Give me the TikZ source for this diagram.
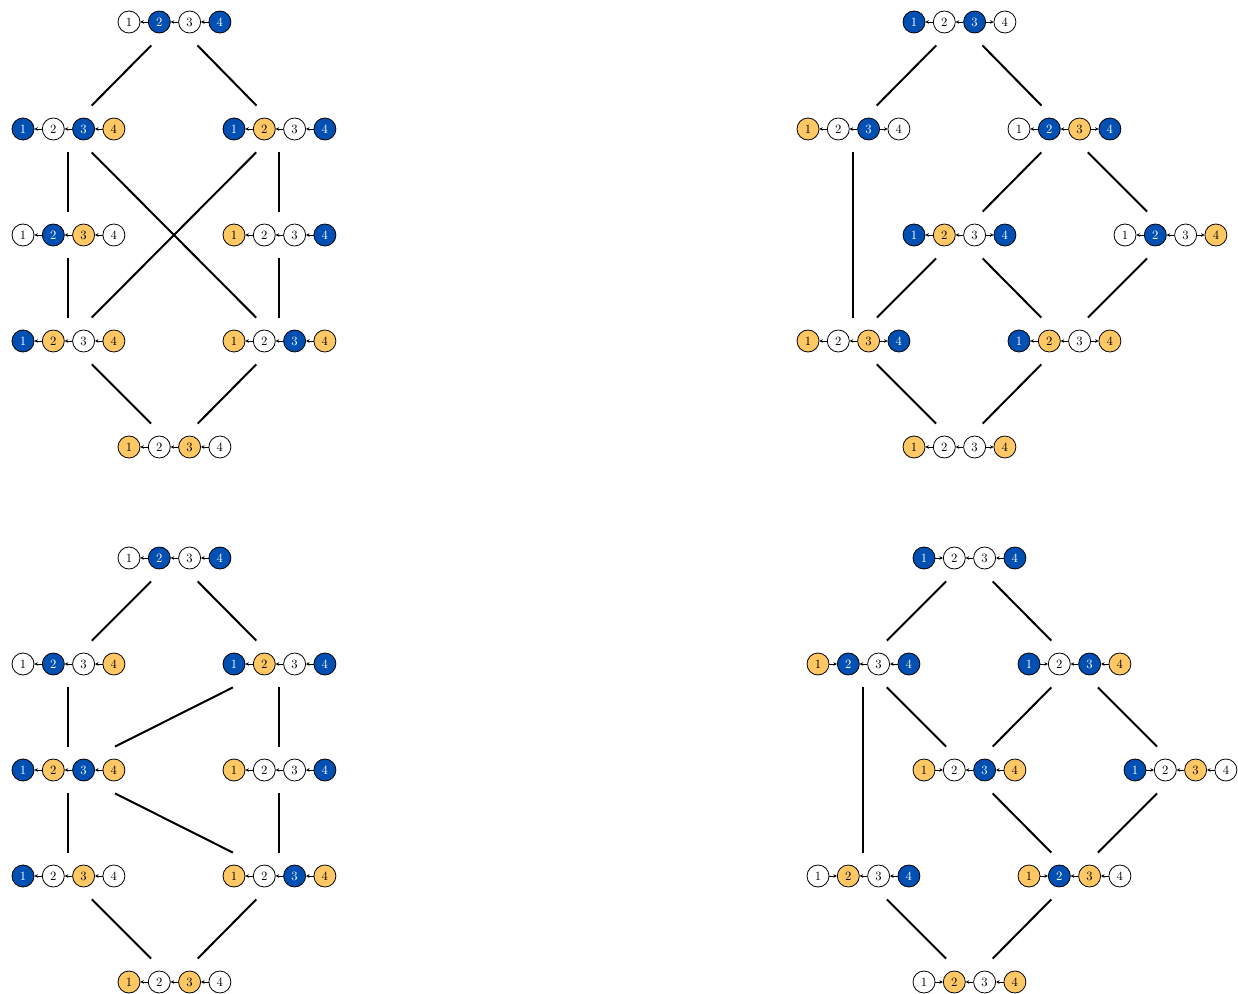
\documentclass[tikz,border=0pt]{standalone}
\usetikzlibrary{fit,arrows.meta}
\definecolor{cblue}{RGB}{0,80,180}
\definecolor{corange}{RGB}{255,200,100}
\tikzset{
 ball/.style={circle,draw=black,line width=0.6pt,minimum size=16.5pt,inner sep=0pt,font=\fontsize{9.5}{10}\selectfont},
 W/.style={ball,fill=white,text=black},
 B/.style={ball,fill=cblue,text=white},
 O/.style={ball,fill=corange,text=black},
 tarr/.style={line width=0.4pt,>={Stealth[length=2.6pt,width=2.6pt]}},
 grp/.style={inner sep=9pt,outer sep=0pt,draw=none},
 link/.style={line width=1.5pt},
 arA/.style={<-},arB/.style={<-},arC/.style={<-}
}
\newcommand\mychain[7]{%
 \node[#4] (#1-1) at (#2,#3) {1};
 \node[#5] (#1-2) at ({#2+30.3},#3) {2};
 \node[#6] (#1-3) at ({#2+60.6},#3) {3};
 \node[#7] (#1-4) at ({#2+90.9},#3) {4};
 \draw[tarr,arA] (#1-1) -- (#1-2);
 \draw[tarr,arB] (#1-2) -- (#1-3);
 \draw[tarr,arC] (#1-3) -- (#1-4);
 \node[grp,fit=(#1-1)(#1-4)] (#1) {};
}
\begin{document}
\begin{tikzpicture}[x=0.75pt,y=-0.75pt]
\useasboundingbox (0,0) rectangle (1238,994);
% Diagram 1
\tikzset{arA/.style={<-},arB/.style={<-},arC/.style={<-}}
\mychain{t1}{129}{22}{W}{B}{W}{B}
\mychain{a1}{23}{129}{B}{W}{B}{O}
\mychain{b1}{234}{129}{B}{O}{W}{B}
\mychain{c1}{23}{235}{W}{B}{O}{W}
\mychain{d1}{234}{235}{O}{W}{W}{B}
\mychain{e1}{23}{341}{B}{O}{W}{O}
\mychain{f1}{234}{341}{O}{W}{B}{O}
\mychain{g1}{129}{447}{O}{W}{O}{W}
\draw[link] (t1) -- (a1);
\draw[link] (t1) -- (b1);
\draw[link] (a1) -- (c1);
\draw[link] (a1) -- (f1);
\draw[link] (b1) -- (e1);
\draw[link] (b1) -- (d1);
\draw[link] (c1) -- (e1);
\draw[link] (d1) -- (f1);
\draw[link] (e1) -- (g1);
\draw[link] (f1) -- (g1);
% Diagram 2
\tikzset{arA/.style={<-},arB/.style={<-},arC/.style={->}}
\mychain{t2}{914}{22}{B}{W}{B}{W}
\mychain{a2}{808}{129}{O}{W}{B}{W}
\mychain{b2}{1019}{129}{W}{B}{O}{B}
\mychain{c2}{914}{235}{B}{O}{W}{B}
\mychain{d2}{1125}{235}{W}{B}{W}{O}
\mychain{e2}{808}{341}{O}{W}{O}{B}
\mychain{f2}{1019}{341}{B}{O}{W}{O}
\mychain{g2}{914}{447}{O}{W}{W}{O}
\draw[link] (t2) -- (a2);
\draw[link] (t2) -- (b2);
\draw[link] (b2) -- (c2);
\draw[link] (b2) -- (d2);
\draw[link] (a2) -- (e2);
\draw[link] (c2) -- (e2);
\draw[link] (c2) -- (f2);
\draw[link] (d2) -- (f2);
\draw[link] (e2) -- (g2);
\draw[link] (f2) -- (g2);
% Diagram 3
\tikzset{arA/.style={<-},arB/.style={<-},arC/.style={<-}}
\mychain{t3}{129}{558}{W}{B}{W}{B}
\mychain{a3}{23}{664}{W}{B}{W}{O}
\mychain{b3}{234}{664}{B}{O}{W}{B}
\mychain{c3}{23}{770}{B}{O}{B}{O}
\mychain{d3}{234}{770}{O}{W}{W}{B}
\mychain{e3}{23}{876}{B}{W}{O}{W}
\mychain{f3}{234}{876}{O}{W}{B}{O}
\mychain{g3}{129}{982}{O}{W}{O}{W}
\draw[link] (t3) -- (a3);
\draw[link] (t3) -- (b3);
\draw[link] (a3) -- (c3);
\draw[link] (b3) -- (c3);
\draw[link] (b3) -- (d3);
\draw[link] (c3) -- (e3);
\draw[link] (c3) -- (f3);
\draw[link] (d3) -- (f3);
\draw[link] (e3) -- (g3);
\draw[link] (f3) -- (g3);
% Diagram 4
\tikzset{arA/.style={->},arB/.style={<-},arC/.style={<-}}
\mychain{t4}{924}{558}{B}{W}{W}{B}
\mychain{a4}{818}{664}{O}{B}{W}{B}
\mychain{b4}{1029}{664}{B}{W}{B}{O}
\mychain{c4}{924}{770}{O}{W}{B}{O}
\mychain{d4}{1135}{770}{B}{W}{O}{W}
\mychain{e4}{818}{876}{W}{O}{W}{B}
\mychain{f4}{1029}{876}{O}{B}{O}{W}
\mychain{g4}{924}{982}{W}{O}{W}{O}
\draw[link] (t4) -- (a4);
\draw[link] (t4) -- (b4);
\draw[link] (a4) -- (e4);
\draw[link] (a4) -- (c4);
\draw[link] (b4) -- (c4);
\draw[link] (b4) -- (d4);
\draw[link] (c4) -- (f4);
\draw[link] (d4) -- (f4);
\draw[link] (e4) -- (g4);
\draw[link] (f4) -- (g4);
\end{tikzpicture}
\end{document}
